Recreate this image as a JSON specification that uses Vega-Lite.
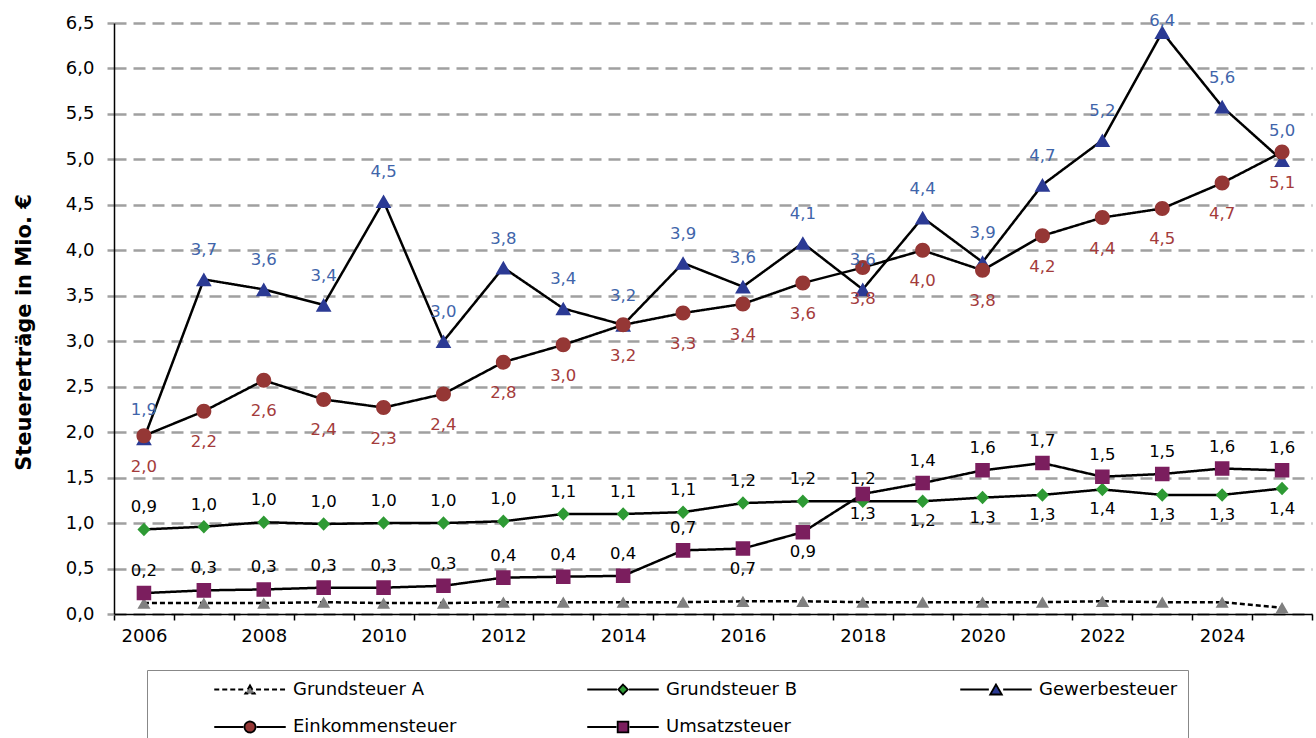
{
  "$schema": "https://vega.github.io/schema/vega-lite/v6.json",
  "autosize": {"type": "none"},
  "padding": {"left": 114, "top": 23, "right": 4, "bottom": 124},
  "width": 1198,
  "height": 591,
  "background": "white",
  "config": {
    "view": {"stroke": null},
    "font": "DejaVu Sans",
    "locale": {"number": {"decimal": ",", "thousands": ".", "grouping": [3], "currency": ["", " €"]}},
    "legend": {
      "orient": "none", "legendX": 33, "legendY": 647,
      "direction": "horizontal", "columns": 3, "gridAlign": "all",
      "columnPadding": 123, "rowPadding": 18, "padding": 10,
      "strokeColor": "#888888", "fillColor": "white",
      "titleOrient": "left", "titlePadding": 50, "titleFontSize": 18,
      "labelFont": "DejaVu Sans", "labelFontSize": 18, "labelColor": "black", "labelLimit": 300,
      "symbolSize": 121, "symbolOffset": 34, "labelOffset": 34,
      "symbolStrokeWidth": 1.8, "symbolOpacity": 1
    }
  },
  "data": {"values": [
    {"Jahr": 2006, "Serie": "Grundsteuer A", "Wert": 0.12},
    {"Jahr": 2007, "Serie": "Grundsteuer A", "Wert": 0.12},
    {"Jahr": 2008, "Serie": "Grundsteuer A", "Wert": 0.12},
    {"Jahr": 2009, "Serie": "Grundsteuer A", "Wert": 0.13},
    {"Jahr": 2010, "Serie": "Grundsteuer A", "Wert": 0.12},
    {"Jahr": 2011, "Serie": "Grundsteuer A", "Wert": 0.12},
    {"Jahr": 2012, "Serie": "Grundsteuer A", "Wert": 0.13},
    {"Jahr": 2013, "Serie": "Grundsteuer A", "Wert": 0.13},
    {"Jahr": 2014, "Serie": "Grundsteuer A", "Wert": 0.13},
    {"Jahr": 2015, "Serie": "Grundsteuer A", "Wert": 0.13},
    {"Jahr": 2016, "Serie": "Grundsteuer A", "Wert": 0.14},
    {"Jahr": 2017, "Serie": "Grundsteuer A", "Wert": 0.14},
    {"Jahr": 2018, "Serie": "Grundsteuer A", "Wert": 0.13},
    {"Jahr": 2019, "Serie": "Grundsteuer A", "Wert": 0.13},
    {"Jahr": 2020, "Serie": "Grundsteuer A", "Wert": 0.13},
    {"Jahr": 2021, "Serie": "Grundsteuer A", "Wert": 0.13},
    {"Jahr": 2022, "Serie": "Grundsteuer A", "Wert": 0.14},
    {"Jahr": 2023, "Serie": "Grundsteuer A", "Wert": 0.13},
    {"Jahr": 2024, "Serie": "Grundsteuer A", "Wert": 0.13},
    {"Jahr": 2025, "Serie": "Grundsteuer A", "Wert": 0.07},
    {"Jahr": 2006, "Serie": "Grundsteuer B", "Wert": 0.93},
    {"Jahr": 2007, "Serie": "Grundsteuer B", "Wert": 0.96},
    {"Jahr": 2008, "Serie": "Grundsteuer B", "Wert": 1.01},
    {"Jahr": 2009, "Serie": "Grundsteuer B", "Wert": 0.99},
    {"Jahr": 2010, "Serie": "Grundsteuer B", "Wert": 1.0},
    {"Jahr": 2011, "Serie": "Grundsteuer B", "Wert": 1.0},
    {"Jahr": 2012, "Serie": "Grundsteuer B", "Wert": 1.02},
    {"Jahr": 2013, "Serie": "Grundsteuer B", "Wert": 1.1},
    {"Jahr": 2014, "Serie": "Grundsteuer B", "Wert": 1.1},
    {"Jahr": 2015, "Serie": "Grundsteuer B", "Wert": 1.12},
    {"Jahr": 2016, "Serie": "Grundsteuer B", "Wert": 1.22},
    {"Jahr": 2017, "Serie": "Grundsteuer B", "Wert": 1.24},
    {"Jahr": 2018, "Serie": "Grundsteuer B", "Wert": 1.24},
    {"Jahr": 2019, "Serie": "Grundsteuer B", "Wert": 1.24},
    {"Jahr": 2020, "Serie": "Grundsteuer B", "Wert": 1.28},
    {"Jahr": 2021, "Serie": "Grundsteuer B", "Wert": 1.31},
    {"Jahr": 2022, "Serie": "Grundsteuer B", "Wert": 1.37},
    {"Jahr": 2023, "Serie": "Grundsteuer B", "Wert": 1.31},
    {"Jahr": 2024, "Serie": "Grundsteuer B", "Wert": 1.31},
    {"Jahr": 2025, "Serie": "Grundsteuer B", "Wert": 1.38},
    {"Jahr": 2006, "Serie": "Gewerbesteuer", "Wert": 1.93},
    {"Jahr": 2007, "Serie": "Gewerbesteuer", "Wert": 3.68},
    {"Jahr": 2008, "Serie": "Gewerbesteuer", "Wert": 3.57},
    {"Jahr": 2009, "Serie": "Gewerbesteuer", "Wert": 3.4},
    {"Jahr": 2010, "Serie": "Gewerbesteuer", "Wert": 4.54},
    {"Jahr": 2011, "Serie": "Gewerbesteuer", "Wert": 3.0},
    {"Jahr": 2012, "Serie": "Gewerbesteuer", "Wert": 3.81},
    {"Jahr": 2013, "Serie": "Gewerbesteuer", "Wert": 3.36},
    {"Jahr": 2014, "Serie": "Gewerbesteuer", "Wert": 3.18},
    {"Jahr": 2015, "Serie": "Gewerbesteuer", "Wert": 3.86},
    {"Jahr": 2016, "Serie": "Gewerbesteuer", "Wert": 3.6},
    {"Jahr": 2017, "Serie": "Gewerbesteuer", "Wert": 4.08},
    {"Jahr": 2018, "Serie": "Gewerbesteuer", "Wert": 3.57},
    {"Jahr": 2019, "Serie": "Gewerbesteuer", "Wert": 4.36},
    {"Jahr": 2020, "Serie": "Gewerbesteuer", "Wert": 3.87},
    {"Jahr": 2021, "Serie": "Gewerbesteuer", "Wert": 4.72},
    {"Jahr": 2022, "Serie": "Gewerbesteuer", "Wert": 5.21},
    {"Jahr": 2023, "Serie": "Gewerbesteuer", "Wert": 6.4},
    {"Jahr": 2024, "Serie": "Gewerbesteuer", "Wert": 5.58},
    {"Jahr": 2025, "Serie": "Gewerbesteuer", "Wert": 4.99},
    {"Jahr": 2006, "Serie": "Einkommensteuer", "Wert": 1.96},
    {"Jahr": 2007, "Serie": "Einkommensteuer", "Wert": 2.23},
    {"Jahr": 2008, "Serie": "Einkommensteuer", "Wert": 2.57},
    {"Jahr": 2009, "Serie": "Einkommensteuer", "Wert": 2.36},
    {"Jahr": 2010, "Serie": "Einkommensteuer", "Wert": 2.27},
    {"Jahr": 2011, "Serie": "Einkommensteuer", "Wert": 2.42},
    {"Jahr": 2012, "Serie": "Einkommensteuer", "Wert": 2.77},
    {"Jahr": 2013, "Serie": "Einkommensteuer", "Wert": 2.96},
    {"Jahr": 2014, "Serie": "Einkommensteuer", "Wert": 3.18},
    {"Jahr": 2015, "Serie": "Einkommensteuer", "Wert": 3.31},
    {"Jahr": 2016, "Serie": "Einkommensteuer", "Wert": 3.41},
    {"Jahr": 2017, "Serie": "Einkommensteuer", "Wert": 3.64},
    {"Jahr": 2018, "Serie": "Einkommensteuer", "Wert": 3.81},
    {"Jahr": 2019, "Serie": "Einkommensteuer", "Wert": 4.0},
    {"Jahr": 2020, "Serie": "Einkommensteuer", "Wert": 3.78},
    {"Jahr": 2021, "Serie": "Einkommensteuer", "Wert": 4.16},
    {"Jahr": 2022, "Serie": "Einkommensteuer", "Wert": 4.36},
    {"Jahr": 2023, "Serie": "Einkommensteuer", "Wert": 4.46},
    {"Jahr": 2024, "Serie": "Einkommensteuer", "Wert": 4.74},
    {"Jahr": 2025, "Serie": "Einkommensteuer", "Wert": 5.08},
    {"Jahr": 2006, "Serie": "Umsatzsteuer", "Wert": 0.23},
    {"Jahr": 2007, "Serie": "Umsatzsteuer", "Wert": 0.26},
    {"Jahr": 2008, "Serie": "Umsatzsteuer", "Wert": 0.27},
    {"Jahr": 2009, "Serie": "Umsatzsteuer", "Wert": 0.29},
    {"Jahr": 2010, "Serie": "Umsatzsteuer", "Wert": 0.29},
    {"Jahr": 2011, "Serie": "Umsatzsteuer", "Wert": 0.31},
    {"Jahr": 2012, "Serie": "Umsatzsteuer", "Wert": 0.4},
    {"Jahr": 2013, "Serie": "Umsatzsteuer", "Wert": 0.41},
    {"Jahr": 2014, "Serie": "Umsatzsteuer", "Wert": 0.42},
    {"Jahr": 2015, "Serie": "Umsatzsteuer", "Wert": 0.7},
    {"Jahr": 2016, "Serie": "Umsatzsteuer", "Wert": 0.72},
    {"Jahr": 2017, "Serie": "Umsatzsteuer", "Wert": 0.9},
    {"Jahr": 2018, "Serie": "Umsatzsteuer", "Wert": 1.32},
    {"Jahr": 2019, "Serie": "Umsatzsteuer", "Wert": 1.44},
    {"Jahr": 2020, "Serie": "Umsatzsteuer", "Wert": 1.58},
    {"Jahr": 2021, "Serie": "Umsatzsteuer", "Wert": 1.66},
    {"Jahr": 2022, "Serie": "Umsatzsteuer", "Wert": 1.51},
    {"Jahr": 2023, "Serie": "Umsatzsteuer", "Wert": 1.54},
    {"Jahr": 2024, "Serie": "Umsatzsteuer", "Wert": 1.6},
    {"Jahr": 2025, "Serie": "Umsatzsteuer", "Wert": 1.58}
  ]},
  "encoding": {
    "x": {
      "field": "Jahr", "type": "ordinal",
      "scale": {"type": "band", "paddingInner": 0, "paddingOuter": 0},
      "axis": {
        "title": null, "grid": false, "labelAngle": 0,
        "labelExpr": "datum.value % 2 === 0 ? datum.label : ''",
        "labelFont": "DejaVu Sans", "labelFontSize": 18, "labelColor": "black", "labelPadding": 7,
        "domainColor": "black", "domainWidth": 1.5,
        "tickBand": "extent", "tickColor": "black", "tickWidth": 1.5, "tickSize": 6
      }
    },
    "y": {
      "field": "Wert", "type": "quantitative",
      "scale": {"domain": [0, 6.5], "nice": false},
      "axis": {
        "values": [0, 0.5, 1, 1.5, 2, 2.5, 3, 3.5, 4, 4.5, 5, 5.5, 6, 6.5],
        "format": ".1f",
        "labelFont": "DejaVu Sans", "labelFontSize": 18, "labelColor": "black", "labelPadding": 13,
        "domainColor": "black", "domainWidth": 1.5,
        "tickColor": "#A0A0A0", "tickWidth": 2.5, "tickSize": 7,
        "grid": true, "gridColor": "#A0A0A0", "gridDash": [12, 7], "gridWidth": 2.5,
        "title": "Steuererträge in Mio. €",
        "titleFont": "DejaVu Sans", "titleFontSize": 21, "titleFontWeight": "bold", "titleColor": "black",
        "titleAngle": 270, "titleAlign": "center", "titleBaseline": "middle",
        "titleX": -90, "titleY": 309
      }
    }
  },
  "layer": [
    {
      "mark": {"type": "line", "strokeWidth": 2.5},
      "encoding": {
        "stroke": {
          "field": "Serie", "type": "nominal",
          "scale": {"domain": ["Grundsteuer A", "Grundsteuer B", "Gewerbesteuer", "Einkommensteuer", "Umsatzsteuer"],
                    "range": ["black", "black", "black", "black", "black"]},
          "legend": {"title": " ", "symbolStrokeWidth": 1.8}
        },
        "strokeDash": {
          "field": "Serie", "type": "nominal",
          "scale": {"domain": ["Grundsteuer A", "Grundsteuer B", "Gewerbesteuer", "Einkommensteuer", "Umsatzsteuer"],
                    "range": [[5, 3], [1, 0], [1, 0], [1, 0], [1, 0]]},
          "legend": {"title": " "}
        }
      }
    },
    {
      "mark": {"type": "point", "filled": true, "opacity": 1, "size": 225},
      "encoding": {
        "shape": {
          "field": "Serie", "type": "nominal",
          "scale": {"domain": ["Grundsteuer A", "Grundsteuer B", "Gewerbesteuer", "Einkommensteuer", "Umsatzsteuer"],
                    "range": [
                      "M-6.5,0L-1.1,0M1.1,0L6.5,0M0,-0.75L0.87,0.75L-0.87,0.75Z",
                      "M-6.5,0L-1.1,0M1.1,0L6.5,0M0,-0.9L0.87,0L0,0.9L-0.87,0Z",
                      "M-6.5,0L-1.3,0M1.3,0L6.5,0M0,-0.91L1.05,0.91L-1.05,0.91Z",
                      "M-6.5,0L-1.2,0M1.2,0L6.5,0M-1,0A1,1,0,1,0,1,0A1,1,0,1,0,-1,0Z",
                      "M-6.5,0L-1.2,0M1.2,0L6.5,0M-0.97,-0.97L0.97,-0.97L0.97,0.97L-0.97,0.97Z"
                    ]},
          "legend": {"title": " "}
        },
        "color": {
          "field": "Serie", "type": "nominal",
          "scale": {"domain": ["Grundsteuer A", "Grundsteuer B", "Gewerbesteuer", "Einkommensteuer", "Umsatzsteuer"],
                    "range": ["#808080", "#2E9A34", "#2B3A94", "#953735", "#7B1E5E"]},
          "legend": {"title": " "}
        }
      }
    },
    {
      "transform": [{"filter": "datum.Serie === 'Gewerbesteuer' && datum.Jahr !== 2023"}],
      "mark": {"type": "text", "dy": -29, "fontSize": 16.5, "font": "DejaVu Sans", "color": "#3F65AA"},
      "encoding": {"text": {"field": "Wert", "type": "quantitative", "format": ".1f"}}
    },
    {
      "transform": [{"filter": "datum.Serie === 'Gewerbesteuer' && datum.Jahr === 2023"}],
      "mark": {"type": "text", "dy": -11, "fontSize": 16.5, "font": "DejaVu Sans", "color": "#3F65AA"},
      "encoding": {"text": {"field": "Wert", "type": "quantitative", "format": ".1f"}}
    },
    {
      "transform": [{"filter": "datum.Serie === 'Einkommensteuer'"}],
      "mark": {"type": "text", "dy": 31, "fontSize": 16.5, "font": "DejaVu Sans", "color": "#A33B3B"},
      "encoding": {"text": {"field": "Wert", "type": "quantitative", "format": ".1f"}}
    },
    {
      "transform": [{"filter": "(datum.Serie === 'Grundsteuer B' && datum.Jahr <= 2018) || (datum.Serie === 'Umsatzsteuer' && (datum.Jahr <= 2015 || datum.Jahr >= 2019))"}],
      "mark": {"type": "text", "dy": -22, "fontSize": 16.5, "font": "DejaVu Sans", "color": "black"},
      "encoding": {"text": {"field": "Wert", "type": "quantitative", "format": ".1f"}}
    },
    {
      "transform": [{"filter": "(datum.Serie === 'Grundsteuer B' && datum.Jahr >= 2019) || (datum.Serie === 'Umsatzsteuer' && datum.Jahr >= 2016 && datum.Jahr <= 2018)"}],
      "mark": {"type": "text", "dy": 20, "fontSize": 16.5, "font": "DejaVu Sans", "color": "black"},
      "encoding": {"text": {"field": "Wert", "type": "quantitative", "format": ".1f"}}
    }
  ]
}
